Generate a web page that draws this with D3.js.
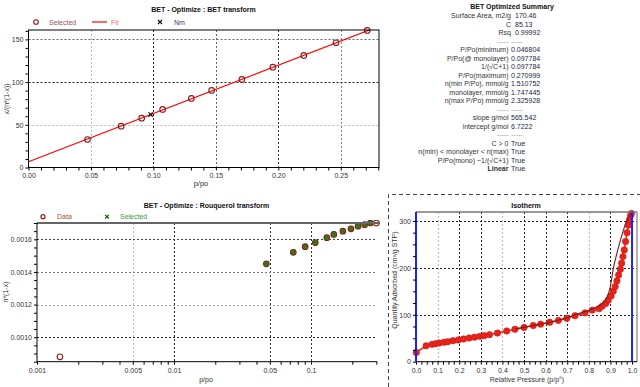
<!DOCTYPE html>
<html>
<head>
<meta charset="utf-8">
<script src="https://cdn.jsdelivr.net/npm/d3@7"></script>
<style>
body { margin: 0; background: #fff; }
svg { display: block; font-family: "Liberation Sans", Arial, sans-serif; }
</style>
</head>
<body>
<script>
"use strict";

// ---- data ----
// BET transform (selected points)
var betP = [0.0472, 0.0742, 0.0906, 0.1074, 0.1304, 0.1466, 0.1708, 0.1956, 0.2204, 0.2462, 0.2712];
var betY = [32.8, 48.4, 57.8, 68.0, 80.9, 90.2, 103.1, 117.5, 131.2, 146.0, 160.5];
var fitP = [0.0, 0.2806];
var fitY = [6.72, 165.4];
var nmP = [0.0978];
var nmY = [62.0];

// Rouquerol transform
var rouqP = [0.00147, 0.0472, 0.0742, 0.0906, 0.1074, 0.1304, 0.1466, 0.1708, 0.1956, 0.2204, 0.2462, 0.2712, 0.300];
var rouqY = [0.00088, 0.00145, 0.00152, 0.001555, 0.00158, 0.00161, 0.00163, 0.00165, 0.001664, 0.00168, 0.00169, 0.00170, 0.00170];
var rouqSel = [false, true, true, true, true, true, true, true, true, true, true, true, false];

// Isotherm, adsorption branch
var adsP = [0.0015, 0.047, 0.074, 0.091, 0.108, 0.131, 0.147, 0.171, 0.196, 0.220, 0.246, 0.271, 0.295, 0.315,
            0.340, 0.377, 0.420, 0.458, 0.500, 0.543, 0.577, 0.619, 0.659, 0.698, 0.736, 0.782, 0.816, 0.847,
            0.861, 0.878, 0.890, 0.903, 0.913, 0.922, 0.930, 0.938, 0.946, 0.952, 0.958, 0.964, 0.970, 0.977,
            0.983, 0.988, 0.993, 0.997];
var adsQ = [19.8, 33.9, 37.0, 38.4, 39.9, 41.3, 42.6, 44.8, 46.3, 48.4, 50.5, 52.2, 54.0, 55.5,
            57.6, 61.0, 65.5, 69.0, 73.0, 77.0, 80.0, 84.0, 88.0, 92.5, 98.0, 104.0, 110.0, 113.0,
            118.0, 124.0, 131.0, 140.0, 150.0, 160.0, 172.0, 185.0, 197.0, 210.0, 224.0, 238.0, 256.0, 275.0,
            291.0, 302.0, 311.0, 316.0];
// desorption branch
var desP = [0.997, 0.975, 0.960, 0.947, 0.935, 0.924, 0.914, 0.905, 0.894, 0.874, 0.845, 0.805, 0.765, 0.720, 0.670, 0.610, 0.530, 0.460];
var desQ = [317, 300, 280, 260, 240, 220, 200, 175, 150, 130, 118, 110, 104, 97, 90, 83, 76, 70];

// summary table
var sumLabels = ["Surface Area, m2/g", "C", "Rsq", "-----",
                 "P/Po(minimum)", "P/Po(@ monolayer)", "1/(\u221AC+1)", "P/Po(maximum)",
                 "n(min P/Po), mmol/g", "monolayer, mmol/g", "n(max P/Po) mmol/g", "-----",
                 "slope g/mol", "intercept g/mol", "-----",
                 "C > 0", "n(min) < monolayer < n(max)", "P/Po(mono) ~1/(\u221AC+1)", "Linear"];
var sumValues = ["170.46", "85.13", "0.99992", "-----",
                 "0.046804", "0.097784", "0.097784", "0.270999",
                 "1.510752", "1.747445", "2.325928", "-----",
                 "565.542", "6.7222", "-----",
                 "True", "True", "True", "True"];

var svg = d3.select("body").append("svg").attr("width", 640).attr("height", 387);

function styleAxis(a) {
    a.attr("font-size", 7).attr("font-family", null);
    a.select(".domain").remove();
    a.selectAll(".tick line").attr("stroke", "#000");
    a.selectAll(".tick text").attr("fill", "#333");
}

function vgrid(g, xs, vals, colors, y0, y1) {
    g.selectAll(null).data(vals).enter().append("line")
        .attr("x1", function (d) { return Math.round(xs(d)) + 0.5; })
        .attr("x2", function (d) { return Math.round(xs(d)) + 0.5; })
        .attr("y1", y0).attr("y2", y1)
        .attr("stroke", function (d, i) { return colors[i]; })
        .attr("stroke-dasharray", "2,2");
}

function hgrid(g, ys, vals, colors, x0, x1) {
    g.selectAll(null).data(vals).enter().append("line")
        .attr("y1", function (d) { return Math.round(ys(d)) + 0.5; })
        .attr("y2", function (d) { return Math.round(ys(d)) + 0.5; })
        .attr("x1", x0).attr("x2", x1)
        .attr("stroke", function (d, i) { return colors[i]; })
        .attr("stroke-dasharray", "2,2");
}

function label(g, x, y, s, opts) {
    opts = opts || {};
    var t = g.append("text").attr("x", x).attr("y", y).text(s)
        .attr("font-size", opts.size || 7)
        .attr("fill", opts.fill || "#222")
        .attr("text-anchor", opts.anchor || "start");
    if (opts.bold) t.attr("font-weight", "bold");
    if (opts.rotate) t.attr("transform", "rotate(-90," + x + "," + y + ")");
    return t;
}

function xMark(g, cx, cy, r, color, w) {
    g.append("path")
        .attr("d", "M" + (cx - r) + "," + (cy - r) + "L" + (cx + r) + "," + (cy + r) +
                   "M" + (cx - r) + "," + (cy + r) + "L" + (cx + r) + "," + (cy - r))
        .attr("stroke", color).attr("stroke-width", w || 1.3).attr("fill", "none");
}

// ================= BET transform (top left) =================
var gA = svg.append("g");
var xA = d3.scaleLinear().domain([0, 0.2806]).range([28.5, 379]);
var yA = d3.scaleLinear().domain([0, 161]).range([167.5, 30]);

vgrid(gA, xA, [0.05, 0.10, 0.15, 0.20, 0.25], ["#bbb", "#222", "#666", "#333", "#888"], 30, 167.5);
hgrid(gA, yA, [50, 100, 150], ["#bbb", "#222", "#666"], 28.5, 379);

gA.append("clipPath").attr("id", "clipA").append("rect")
    .attr("x", 28.5).attr("y", 30).attr("width", 379 - 28.5).attr("height", 167.5 - 30);

gA.append("path")
    .datum(d3.zip(fitP, fitY))
    .attr("clip-path", "url(#clipA)")
    .attr("d", d3.line().x(function (d) { return xA(d[0]); }).y(function (d) { return yA(d[1]); }))
    .attr("stroke", "#f00").attr("stroke-width", 1.2).attr("fill", "none");

gA.selectAll(null).data(d3.zip(betP, betY)).enter().append("circle")
    .attr("cx", function (d) { return xA(d[0]); })
    .attr("cy", function (d) { return yA(d[1]); })
    .attr("r", 2.8).attr("fill", "none").attr("stroke", "#8b1a1a").attr("stroke-width", 1.1);

d3.zip(nmP, nmY).forEach(function (d) { xMark(gA, xA(d[0]), yA(d[1]), 2.2, "#111", 1.2); });

gA.append("rect").attr("x", 28.5).attr("y", 30).attr("width", 379 - 28.5).attr("height", 167.5 - 30)
    .attr("fill", "none").attr("stroke", "#000");

gA.append("g").attr("transform", "translate(0,167.5)")
    .call(d3.axisBottom(xA).tickValues(d3.range(29).map(function (i) { return i / 100; }))
        .tickSize(3).tickPadding(3)
        .tickFormat(function (d) { return Math.round(d * 100) % 5 === 0 ? d3.format(".2f")(d) : ""; }))
    .call(styleAxis);

gA.append("g").attr("transform", "translate(28.5,0)")
    .call(d3.axisLeft(yA).tickValues(d3.range(0, 161, 10)).tickSize(3).tickPadding(2)
        .tickFormat(function (d) { return d % 50 === 0 ? d : ""; }))
    .call(styleAxis);

label(gA, 203.5, 12, "BET - Optimize : BET transform", { anchor: "middle", bold: true, fill: "#111" });
label(gA, 201, 186, "p/po", { anchor: "middle", size: 7.5, fill: "#333" });
label(gA, 9, 99, "x/(n*(1-x))", { anchor: "middle", rotate: true, fill: "#333" });

// legend
gA.append("circle").attr("cx", 36).attr("cy", 22).attr("r", 2.3)
    .attr("fill", "none").attr("stroke", "#8b1a1a").attr("stroke-width", 1.1);
label(gA, 49, 24.5, "Selected", { fill: "#a0525a" });
gA.append("line").attr("x1", 92).attr("x2", 107).attr("y1", 22).attr("y2", 22)
    .attr("stroke", "#f00").attr("stroke-width", 1.2);
label(gA, 111, 24.5, "Fit", { fill: "#ff6a6a" });
xMark(gA, 160, 22, 2, "#111", 1.2);
label(gA, 174, 24.5, "Nm", { fill: "#4b2c85" });

// ================= Summary (top right) =================
var gS = svg.append("g");
label(gS, 512, 8.5, "BET Optimized Summary", { anchor: "middle", bold: true, fill: "#111" });
sumLabels.forEach(function (s, i) {
    var y = 18.2 + i * 8.5;
    var dash = s === "-----";
    var lx = i < 3 ? 511 : 508.5;
    var vx = i < 3 ? 515 : 511;
    label(gS, lx, y, s, { anchor: "end", fill: dash ? "#999" : "#333", bold: s === "Linear" });
    label(gS, vx, y, sumValues[i], { fill: dash ? "#999" : "#22283f" });
});

// ================= Rouquerol transform (bottom left) =================
var gB = svg.append("g");
var xB = d3.scaleLog().domain([0.001, 0.303]).range([37, 377]);
var yB = d3.scaleLinear().domain([0.00085, 0.0017]).range([361.7, 223]);

vgrid(gB, xB, [0.005, 0.01, 0.05, 0.1], ["#bbb", "#222", "#333", "#333"], 223, 361.7);
hgrid(gB, yB, [0.0010, 0.0012, 0.0014, 0.0016], ["#222", "#aaa", "#777", "#444"], 37, 377);

gB.append("clipPath").attr("id", "clipB").append("rect")
    .attr("x", 37).attr("y", 220).attr("width", 345).attr("height", 145);

var rouq = d3.range(rouqP.length).map(function (i) { return { p: rouqP[i], y: rouqY[i], sel: rouqSel[i] }; });
var gBp = gB.append("g").attr("clip-path", "url(#clipB)");
gBp.selectAll(null).data(rouq).enter().append("circle")
    .attr("cx", function (d) { return xB(d.p); })
    .attr("cy", function (d) { return yB(d.y); })
    .attr("r", 2.8)
    .attr("fill", function (d) { return d.sel ? "#a0453a" : "none"; })
    .attr("stroke", "#8b1a1a").attr("stroke-width", 1.1);
rouq.filter(function (d) { return d.sel; }).forEach(function (d) {
    xMark(gBp, xB(d.p), yB(d.y), 2, "#0a8a0a", 1.3);
});

// frame
gB.append("line").attr("x1", 37).attr("x2", 380).attr("y1", 223).attr("y2", 223)
    .attr("stroke", "#666").attr("stroke-width", 2);
gB.append("line").attr("x1", 37).attr("x2", 37).attr("y1", 223).attr("y2", 361.7).attr("stroke", "#000");
gB.append("line").attr("x1", 37).attr("x2", 377).attr("y1", 361.7).attr("y2", 361.7).attr("stroke", "#000");

var logMajor = [0.001, 0.005, 0.01, 0.05, 0.1];
var logTicks = [0.001, 0.002, 0.003, 0.004, 0.005, 0.006, 0.007, 0.008, 0.009,
                0.01, 0.02, 0.03, 0.04, 0.05, 0.06, 0.07, 0.08, 0.09, 0.1, 0.2, 0.3];
gB.append("g").attr("transform", "translate(0,361.7)")
    .call(d3.axisBottom(xB).tickValues(logTicks).tickSize(3).tickPadding(3)
        .tickFormat(function (d) { return logMajor.indexOf(d) >= 0 ? String(d) : ""; }))
    .call(styleAxis);

gB.append("g").attr("transform", "translate(37,0)")
    .call(d3.axisLeft(yB).tickValues(d3.range(17, 35).map(function (i) { return i * 0.00005; }))
        .tickSize(3).tickPadding(2)
        .tickFormat(function (d) { return Math.round(d * 20000) % 4 === 0 ? d3.format(".4f")(d) : ""; }))
    .call(styleAxis);

label(gB, 206.5, 207.5, "BET - Optimize : Rouquerol transform", { anchor: "middle", bold: true, fill: "#111" });
label(gB, 206, 381.5, "p/po", { anchor: "middle", fill: "#333" });
label(gB, 8, 292, "n*(1-x)", { anchor: "middle", rotate: true, fill: "#333" });

gB.append("circle").attr("cx", 43).attr("cy", 216.7).attr("r", 2)
    .attr("fill", "none").attr("stroke", "#8b1a1a").attr("stroke-width", 1.2);
label(gB, 57, 219.2, "Data", { fill: "#a0522d" });
xMark(gB, 107, 216.7, 1.8, "#0a6a0a", 1.3);
label(gB, 120, 219.2, "Selected", { fill: "#3a9a3a" });

// ================= Isotherm (bottom right) =================
var gC = svg.append("g");
gC.append("path").attr("d", "M388.5,387V194.5H640")
    .attr("fill", "none").attr("stroke", "#444").attr("stroke-dasharray", "4,3");

var xC = d3.scaleLinear().domain([0, 1.023]).range([416, 637]);
var yC = d3.scaleLinear().domain([0, 319]).range([361.7, 212]);

vgrid(gC, xC, [0.1, 0.2, 0.3, 0.4, 0.5, 0.6, 0.7, 0.8, 0.9],
      ["#bbb", "#222", "#222", "#bbb", "#222", "#222", "#222", "#bbb", "#222"], 212, 361.7);
hgrid(gC, yC, [100, 200, 300], ["#222", "#222", "#222"], 416, 637);

var lineC = d3.line().x(function (d) { return xC(d[0]); }).y(function (d) { return yC(d[1]); });
gC.append("path").datum(d3.zip(adsP, adsQ)).attr("d", lineC)
    .attr("fill", "none").attr("stroke", "#e8231a").attr("stroke-width", 1.5);
gC.selectAll(null).data(d3.zip(adsP, adsQ)).enter().append("circle")
    .attr("cx", function (d) { return xC(d[0]); })
    .attr("cy", function (d) { return yC(d[1]); })
    .attr("r", 3.2).attr("fill", "#e8231a").attr("stroke", "#d01a10").attr("stroke-width", 0.6);
gC.append("path").datum(d3.zip(desP, desQ)).attr("d", lineC.curve(d3.curveMonotoneY))
    .attr("fill", "none").attr("stroke", "#7a1a1a").attr("stroke-width", 1.1);

gC.append("line").attr("x1", 416).attr("x2", 637).attr("y1", 212).attr("y2", 212)
    .attr("stroke", "#777").attr("stroke-width", 1.5);
gC.append("line").attr("x1", 637).attr("x2", 637).attr("y1", 212).attr("y2", 361.7)
    .attr("stroke", "#999").attr("stroke-width", 1.5);
gC.append("line").attr("x1", 416).attr("x2", 637).attr("y1", 361.7).attr("y2", 361.7).attr("stroke", "#000");

[0, 1].forEach(function (p) {
    gC.append("line").attr("x1", xC(p)).attr("x2", xC(p)).attr("y1", 212).attr("y2", 361.7)
        .attr("stroke", "#1f1fff").attr("stroke-width", 2);
});

gC.append("g").attr("transform", "translate(0,361.7)")
    .call(d3.axisBottom(xC).tickValues(d3.range(41).map(function (i) { return i / 40; }))
        .tickSize(3).tickPadding(3)
        .tickFormat(function (d) { return Math.round(d * 40) % 4 === 0 ? d3.format(".1f")(d) : ""; }))
    .call(styleAxis);

gC.append("g").attr("transform", "translate(416,0)")
    .call(d3.axisLeft(yC).tickValues(d3.range(0, 319, 25)).tickSize(3).tickPadding(2)
        .tickFormat(function (d) { return d % 100 === 0 ? d : ""; }))
    .call(styleAxis);

label(gC, 526, 207.5, "Isotherm", { anchor: "middle", bold: true, fill: "#111" });
label(gC, 527, 381.5, "Relative Pressure (p/p\u00B0)", { anchor: "middle", fill: "#333" });
label(gC, 396.5, 280, "Quantity Adsorbed (cm\u00B3/g STP)", { anchor: "middle", rotate: true, fill: "#333" });
</script>
</body>
</html>
